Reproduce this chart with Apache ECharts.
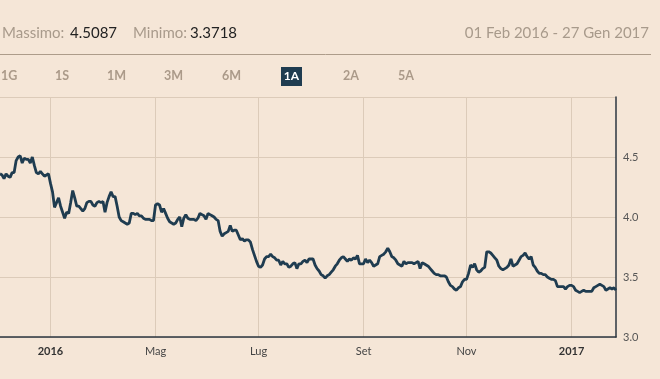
<!DOCTYPE html>
<html>
<head>
<meta charset="utf-8">
<script src="https://cdn.jsdelivr.net/npm/echarts@6/dist/echarts.min.js"></script>
<style>
html,body{margin:0;padding:0;background:#f5e6d7;}
#chart{width:660px;height:379px;}
</style>
</head>
<body>
<div id="chart"></div>
<script>
// Series values (daily closes, Feb 2016 - Jan 2017)
const valuesA = [4.36,4.35,4.32,4.36,4.34,4.33,4.37,4.37,4.47,4.50,4.51,4.45,4.49,4.48,4.48,4.45,4.50,4.43,4.37,4.36,4.38,4.36,4.34,4.35,4.36,4.28,4.21,4.08,4.12,4.16,4.09,4.04,3.99,4.04,4.03,4.12,4.22,4.16,4.09,4.09,4.07,4.05,4.07,4.12,4.13,4.13,4.10,4.09];
const valuesB = [4.12,4.13,4.12,4.13,4.04,4.12,4.17,4.21,4.17,4.17,4.09,4.00,3.97,3.96,3.95,3.94,3.95,4.03,4.03,4.02,4.03,4.01,4.01,3.99,3.98,3.98,3.98,3.97,3.97,4.10,4.11,4.10,4.04,4.07,4.03,3.99,3.96,3.95,3.94,3.95,3.98,4.00,3.92,3.99,4.02,3.99,3.98,3.98,3.98,3.97,3.99];
const valuesC = [4.03,4.02,4.01,3.98,4.03,4.02,4.01,4.00,3.98,3.97,3.88,3.84,3.86,3.87,3.88,3.93,3.88,3.89,3.89,3.85,3.81,3.82,3.80,3.81,3.81,3.79,3.73,3.68,3.63,3.59,3.58,3.60,3.65,3.67,3.67,3.69,3.67,3.66,3.64,3.64,3.60,3.63,3.61,3.61,3.58,3.59,3.61,3.62,3.57,3.61];
const valuesD = [3.61,3.63,3.64,3.62,3.65,3.65,3.65,3.60,3.57,3.55,3.52,3.51,3.49,3.51,3.52,3.54,3.56,3.59,3.61,3.64,3.66,3.67,3.65,3.63,3.65,3.64,3.66,3.65,3.68,3.61,3.61,3.61,3.65,3.62,3.64,3.62,3.59,3.60,3.61,3.67,3.68,3.69,3.71,3.74,3.71,3.67,3.66,3.64,3.61,3.60];
const valuesE = [3.59,3.63,3.61,3.62,3.62,3.62,3.61,3.62,3.63,3.57,3.62,3.61,3.60,3.59,3.57,3.55,3.53,3.52,3.52,3.51,3.51,3.51,3.50,3.46,3.43,3.42,3.40,3.39,3.41,3.42,3.46,3.48,3.48,3.53,3.60,3.58,3.61,3.56,3.54,3.55,3.57,3.58,3.71,3.71,3.70,3.68,3.66,3.64,3.59,3.57,3.56,3.57,3.58,3.60];
const valuesF = [3.65,3.59,3.60,3.61,3.64,3.67,3.68,3.70,3.67,3.65,3.67,3.60,3.58,3.55,3.53,3.53,3.52,3.52,3.50,3.49,3.48,3.48,3.47,3.42,3.42,3.42,3.42,3.40,3.42,3.43,3.43,3.42,3.39,3.38,3.37,3.38,3.39,3.38,3.38,3.38,3.38,3.41,3.42,3.43,3.44,3.43,3.42,3.39,3.40,3.41,3.40,3.41,3.39];
const values = [].concat(valuesA, valuesB, valuesC, valuesD, valuesE, valuesF);
const categories = values.map((_, i) => String(i));

// X tick labels and the data index where each falls
const tickLabels = ['2016','Mag','Lug','Set','Nov','2017'];
const tickIndex = [25, 77, 128, 180, 231, 283];

// Y ticks
const yMin = 3.0, yMax = 5.0, yStep = 0.5;

// Header texts
const statLabels = ['Massimo:', 'Minimo:'];
const statValues = ['4.5087', '3.3718'];
const dateRange = '01 Feb 2016 - 27 Gen 2017';
const tabs = ['1G','1S','1M','3M','6M','1A','2A','5A'];
const tabX = [1, 55, 107, 164, 222, 285, 343, 398];
const activeTab = '1A';

const FONT = 'Lato, "Open Sans", sans-serif';
const chart = echarts.init(document.getElementById('chart'));

const graphics = [
  {type:'text', left:2, top:26, style:{text:statLabels[0], fill:'#a89a8b', font:'15px ' + FONT}},
  {type:'text', left:70, top:26, style:{text:statValues[0], fill:'#222', font:'15px ' + FONT}},
  {type:'text', left:133, top:26, style:{text:statLabels[1], fill:'#a89a8b', font:'15px ' + FONT}},
  {type:'text', left:190, top:26, style:{text:statValues[1], fill:'#222', font:'15px ' + FONT}},
  {type:'text', right:11, top:26, style:{text:dateRange, fill:'#a89a8b', font:'15px ' + FONT}},
  {type:'line', shape:{x1:0, y1:54.5, x2:651, y2:54.5}, style:{stroke:'#ad9c8a', lineWidth:1}}
];
tabs.forEach((t, i) => {
  if (t === activeTab) {
    graphics.push({type:'rect', shape:{x:281, y:67, width:21, height:19}, style:{fill:'#1f3c50'}});
    graphics.push({type:'text', x:291.5, y:76.5, style:{text:t, fill:'#fff', font:'bold 12px ' + FONT, align:'center', verticalAlign:'middle'}});
  } else {
    graphics.push({type:'text', x:tabX[i], y:76, style:{text:t, fill:'#ab9a89', font:'bold 12.5px ' + FONT, verticalAlign:'middle'}});
  }
});

chart.setOption({
  backgroundColor:'#f5e6d7',
  animation:false,
  graphic:graphics,
  grid:{left:0, right:44, top:97, bottom:42},
  xAxis:{
    type:'category',
    data:categories,
    boundaryGap:false,
    axisLine:{show:true, lineStyle:{color:'#2b3640', width:1.5}},
    axisTick:{show:false},
    axisLabel:{
      interval:(idx) => tickIndex.includes(idx),
      margin:9,
      color:'#444',
      fontSize:11,
      fontFamily:FONT,
      formatter:(val, idx) => {
        const k = tickIndex.indexOf(Number(val));
        if (k < 0) return '';
        const t = tickLabels[k];
        return /^\d{4}$/.test(t) ? '{b|' + t + '}' : t;
      },
      rich:{b:{fontWeight:'bold', fontSize:11, color:'#333', fontFamily:FONT}}
    },
    splitLine:{show:true, interval:(idx) => tickIndex.includes(idx), lineStyle:{color:'#dccbb9', width:1}}
  },
  yAxis:{
    type:'value',
    position:'right',
    min:yMin, max:yMax, interval:yStep,
    axisLine:{show:true, lineStyle:{color:'#2b3640', width:1.5}},
    axisTick:{show:false},
    axisLabel:{
      margin:7, color:'#555', fontSize:11, fontFamily:FONT,
      formatter:(v) => v >= yMax ? '' : v.toFixed(1)
    },
    splitLine:{show:true, lineStyle:{color:'#dccbb9', width:1}}
  },
  series:[{
    type:'line',
    data:values,
    showSymbol:false,
    symbol:'none',
    lineStyle:{color:'#1f3c50', width:2.8},
    itemStyle:{color:'#1f3c50'}
  }]
});
</script>
</body>
</html>
